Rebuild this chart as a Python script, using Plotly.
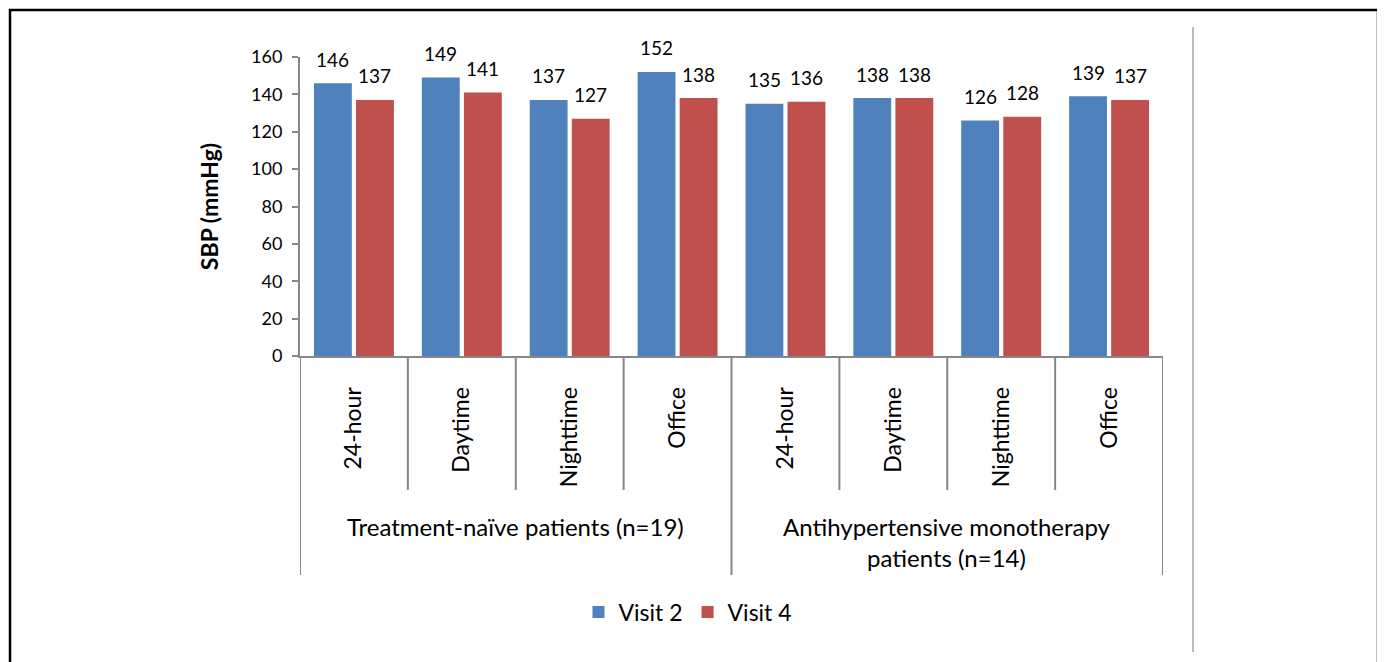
import plotly.graph_objects as go

subcats = ["24-hour", "Daytime", "Nighttime", "Office", "24-hour", "Daytime", "Nighttime", "Office"]
groups = ["Treatment-naïve patients (n=19)", "Antihypertensive monotherapy<br>patients (n=14)"]
visit2 = [146, 149, 137, 152, 135, 138, 126, 139]
visit4 = [137, 141, 127, 138, 136, 138, 128, 137]
series_names = ["Visit 2", "Visit 4"]
colors = ["#4F81BD", "#C0504D"]
yticks = [0, 20, 40, 60, 80, 100, 120, 140, 160]

W, H = 1385, 662
OFF = 8  # page body margin
L, R, T, B = 300 - OFF, 1163 - OFF, 57 - OFF, 356 - OFF
FONT = "Lato"
GREY = "#868686"

def px_x(px):
    return (px - OFF - L) / (R - L)

def px_y(py):
    return (B - (py - OFF)) / (B - T)

xs = list(range(len(subcats)))
bargap = 0.22
fig = go.Figure()
for name, vals, col in zip(series_names, [visit2, visit4], colors):
    fig.add_bar(x=xs, y=vals, name=name, marker=dict(color=col, line=dict(width=0)))

# data labels
off = (1 - bargap) / 4
for k, vals in enumerate([visit2, visit4]):
    sign = -1 if k == 0 else 1
    for i, v in enumerate(vals):
        fig.add_annotation(x=i + sign * off, y=v, xref="x", yref="y", text=str(v),
                           showarrow=False, yshift=24, yanchor="middle",
                           font=dict(family=FONT, size=19, color="#000"))

shapes = []
n = len(subcats)
for j in range(n + 1):
    b = j - 0.5
    long = (j % 4 == 0)
    shapes.append(dict(type="line", xref="x", yref="paper", x0=b, x1=b,
                       y0=0, y1=px_y(575 if long else 490),
                       line=dict(color=GREY, width=2)))
# outer frame
shapes.append(dict(type="rect", xref="paper", yref="paper",
                   x0=px_x(10), x1=px_x(1378), y0=px_y(690), y1=px_y(10),
                   line=dict(color="#000", width=2.5), layer="above"))
# right grey line
shapes.append(dict(type="line", xref="paper", yref="paper",
                   x0=px_x(1193), x1=px_x(1193), y0=px_y(652), y1=px_y(27),
                   line=dict(color="#A6A6A6", width=1.5)))

# group labels
for gi, g in enumerate(groups):
    cx = gi * 4 + 1.5
    fig.add_annotation(x=cx, xref="x", y=px_y(510), yref="paper", text=g,
                       showarrow=False, yanchor="top",
                       font=dict(family=FONT, size=24, color="#000"), align="center")

fig.update_layout(
    width=W, height=H,
    margin=dict(l=L, r=W - R, t=T, b=H - B),
    paper_bgcolor="white", plot_bgcolor="white",
    barmode="group", bargap=bargap, bargroupgap=0.1,
    shapes=shapes,
    showlegend=True,
    legend=dict(orientation="h", x=px_x(688), xanchor="center", y=px_y(612), yanchor="middle",
                font=dict(family=FONT, size=23, color="#000"),
                traceorder="normal"),
    font=dict(family=FONT),
)
fig.update_xaxes(range=[-0.5, n - 0.5], tickvals=xs, ticktext=subcats, tickangle=-90,
                 ticks="", showline=True, linecolor=GREY, linewidth=2,
                 tickfont=dict(family=FONT, size=23, color="#000"),
                 ticklabelstandoff=20, showgrid=False, zeroline=False, fixedrange=True)
fig.update_yaxes(range=[0, 160], tickvals=yticks, ticks="outside", ticklen=6, tickwidth=2,
                 tickcolor=GREY, showline=True, linecolor=GREY, linewidth=2,
                 tickfont=dict(family=FONT, size=18, color="#000"), ticklabelstandoff=6,
                 showgrid=False, zeroline=False,
                 title=dict(text="<b>SBP (mmHg)</b>", font=dict(family=FONT, size=23, color="#000"),
                            standoff=26))

fig.write_html("out.html")
